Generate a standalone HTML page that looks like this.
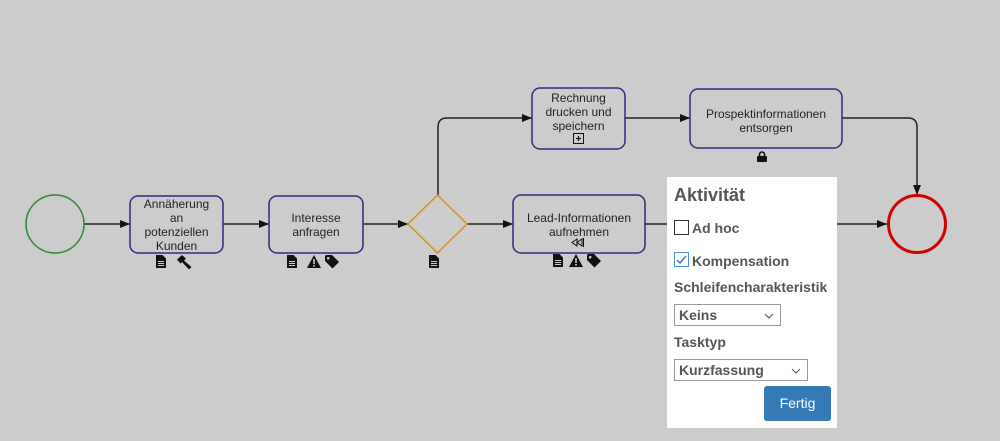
<!DOCTYPE html>
<html><head><meta charset="utf-8">
<style>
html,body{margin:0;padding:0;}
body{width:1000px;height:441px;background:#cccccc;position:relative;overflow:hidden;font-family:"Liberation Sans",Arial,sans-serif;}
#main{position:absolute;left:0;top:0;}
.panel{position:absolute;left:667px;top:177px;width:170px;height:251px;background:#fff;color:#555;}
.panel .h{position:absolute;left:7px;top:8px;font-size:18px;font-weight:bold;}
.lbl{position:absolute;font-size:14px;font-weight:bold;}
.cb{position:absolute;width:13px;height:13px;border:1px solid #333;background:#fff;}
.sel{position:absolute;border:1px solid #999;background:#fff;font-size:14px;font-weight:bold;box-sizing:border-box;}
.sel span{position:absolute;left:4px;top:2px;}
.chev{position:absolute;right:6px;top:8px;}
.btn{position:absolute;left:97px;top:209px;width:67px;height:35px;background:#337ab7;border-radius:3px;color:#fff;font-size:14px;text-align:center;line-height:35px;}
</style></head><body>
<svg id="main" width="1000" height="441" viewBox="0 0 1000 441" xmlns="http://www.w3.org/2000/svg">
<defs>
<marker id="ar" markerWidth="10" markerHeight="8" refX="10" refY="4" orient="auto" markerUnits="userSpaceOnUse">
<path d="M0,0 L10,4 L0,8 Z" fill="#111"/>
</marker>
<g id="doc"><path d="M0,0 H6.5 L10,3.5 V13 H0 Z" fill="#111"/><rect x="2" y="6" width="6" height="1" fill="#ccc"/><rect x="2" y="8" width="6" height="1" fill="#ccc"/><rect x="2" y="10" width="6" height="1" fill="#ccc"/></g>
<g id="warn"><path d="M7,0 L14,13 H0 Z" fill="#111"/><rect x="6.2" y="4" width="1.6" height="5" fill="#ccc"/><rect x="6.2" y="10" width="1.6" height="1.6" fill="#ccc"/></g>
<g id="tag"><path d="M0,1 L0,6 L7.5,13.5 L14,7 L7,0 L1,0 Z" fill="#111"/><circle cx="3.2" cy="3.2" r="1.3" fill="#ccc"/></g>
</defs>
<g stroke="#222" stroke-width="1.5" fill="none">
<line x1="84" y1="224" x2="130" y2="224" marker-end="url(#ar)"/>
<line x1="223" y1="224" x2="269" y2="224" marker-end="url(#ar)"/>
<line x1="363" y1="224" x2="408" y2="224" marker-end="url(#ar)"/>
<line x1="467" y1="224" x2="513" y2="224" marker-end="url(#ar)"/>
<path d="M438,195 V127 Q438,118 447,118 H532" marker-end="url(#ar)"/>
<line x1="625" y1="118" x2="690" y2="118" marker-end="url(#ar)"/>
<path d="M842,118 H908 Q917,118 917,127 V195" marker-end="url(#ar)"/>
<line x1="645" y1="224" x2="700" y2="224"/>
<line x1="800" y1="224" x2="887" y2="224" marker-end="url(#ar)"/>
</g>
<circle cx="55" cy="224" r="29" fill="none" stroke="#2e8b2e" stroke-width="1.5"/>
<circle cx="917" cy="224" r="28.5" fill="none" stroke="#d40000" stroke-width="3"/>
<g fill="none" stroke="#2d2d80" stroke-width="1.5">
<rect x="130" y="196" width="93" height="57" rx="8"/>
<rect x="269" y="196" width="94" height="57" rx="8"/>
<rect x="513" y="195" width="132" height="58" rx="8"/>
<rect x="532" y="88" width="93" height="61" rx="8"/>
<rect x="690" y="89" width="152" height="59" rx="8"/>
</g>
<path d="M437.5,195 L467,224 L437.5,253 L408,224 Z" fill="none" stroke="#e08a1e" stroke-width="1.5"/>
<g font-family="Liberation Sans, Arial, sans-serif" font-size="12" fill="#222" text-anchor="middle">
<text x="176.5" y="208">Annäherung</text>
<text x="176.5" y="222">an</text>
<text x="176.5" y="236">potenziellen</text>
<text x="176.5" y="250">Kunden</text>
<text x="316" y="222">Interesse</text>
<text x="316" y="236">anfragen</text>
<text x="579" y="222">Lead-Informationen</text>
<text x="579" y="236">aufnehmen</text>
<text x="578.5" y="102">Rechnung</text>
<text x="578.5" y="116">drucken und</text>
<text x="578.5" y="130">speichern</text>
<text x="766" y="118">Prospektinformationen</text>
<text x="766" y="132">entsorgen</text>
</g>
<!-- plus marker -->
<rect x="573.5" y="133.5" width="10" height="10" fill="none" stroke="#111" stroke-width="1"/>
<path d="M576,138.5 H581 M578.5,136 V141" stroke="#111" stroke-width="1.2"/>
<!-- compensation marker -->
<path d="M577,239 L572,242.5 L577,246 Z M582,239 L577,242.5 L582,246 Z" fill="none" stroke="#111" stroke-width="1"/>
<line x1="583.5" y1="238" x2="583.5" y2="247" stroke="#111" stroke-width="1"/>
<!-- lock -->
<path d="M759.5,157 V154.5 A2.5,2.5 0 0 1 764.5,154.5 V157" fill="none" stroke="#111" stroke-width="1.6"/>
<rect x="757" y="156" width="10" height="6" rx="1" fill="#111"/>
<!-- icons -->
<use href="#doc" x="156" y="255"/>
<g transform="translate(177,255)"><path d="M0,4.5 L5,0 L9,3.5 L7,5.5 L14.5,12 L12,14.5 L5,7 L3.5,8.5 Z" fill="#111"/></g>
<use href="#doc" x="287" y="255"/>
<use href="#warn" x="307" y="255"/>
<use href="#tag" x="325" y="255"/>
<use href="#doc" x="429" y="255"/>
<use href="#doc" x="553" y="254"/>
<use href="#warn" x="569" y="254"/>
<use href="#tag" x="587" y="254"/>
</svg>
<div class="panel">
<div class="h">Aktivität</div>
<div class="cb" style="left:7px;top:43px;"></div>
<div class="lbl" style="left:25px;top:43px;">Ad hoc</div>
<div class="cb" style="left:7px;top:75px;border-color:#4a90d9;"><svg width="13" height="13" style="position:absolute;left:0;top:0"><path d="M2,7 L5,10 L11,3" fill="none" stroke="#3a7fd0" stroke-width="1.5"/></svg></div>
<div class="lbl" style="left:25px;top:76px;">Kompensation</div>
<div class="lbl" style="left:7px;top:102px;">Schleifencharakteristik</div>
<div class="sel" style="left:7px;top:127px;width:107px;height:22px;"><span>Keins</span><svg class="chev" width="10" height="6"><path d="M1,1 L5,5 L9,1" fill="none" stroke="#555" stroke-width="1"/></svg></div>
<div class="lbl" style="left:7px;top:157px;">Tasktyp</div>
<div class="sel" style="left:7px;top:182px;width:134px;height:22px;"><span>Kurzfassung</span><svg class="chev" width="10" height="6"><path d="M1,1 L5,5 L9,1" fill="none" stroke="#555" stroke-width="1"/></svg></div>
<div class="btn">Fertig</div>
</div>
</body></html>
